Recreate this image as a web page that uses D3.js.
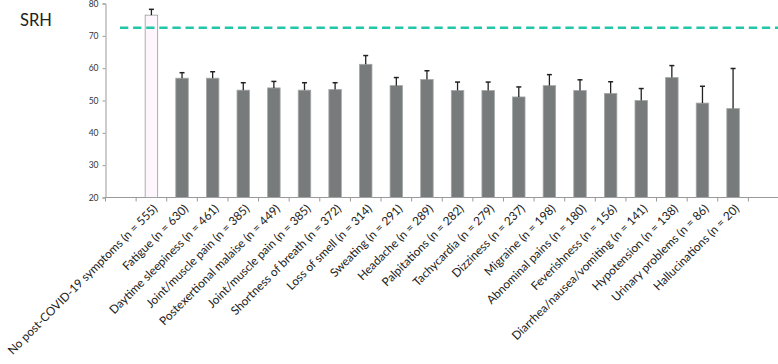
<!DOCTYPE html>
<html>
<head>
<meta charset="utf-8">
<script src="https://cdn.jsdelivr.net/npm/d3@7"></script>
<style>
  body { margin: 0; background: #fff; }
  svg text { font-family: Lato, "Open Sans", sans-serif; }
</style>
</head>
<body>
<div id="chart"></div>
<script>
// categories (one slot is left empty before the first and after the last)
const categories = [
  "No post-COVID-19 symptoms (n = 555)",
  "Fatigue (n = 630)",
  "Daytime sleepiness (n = 461)",
  "Joint/muscle pain (n = 385)",
  "Postexertional malaise  (n = 449)",
  "Joint/muscle pain  (n = 385)",
  "Shortness of breath (n = 372)",
  "Loss of smell (n = 314)",
  "Sweating (n = 291)",
  "Headache (n = 289)",
  "Palpitations (n = 282)",
  "Tachycardia (n = 279)",
  "Dizziness (n = 237)",
  "Migraine (n = 198)",
  "Abnominal pains (n = 180)",
  "Feverishness (n = 156)",
  "Diarrhea/nausea/vomiting (n = 141)",
  "Hypotension (n = 138)",
  "Urinary problems (n = 86)",
  "Hallucinations (n = 20)"
];
// mean SRH per group
const srhMean = [76.4, 56.9, 56.9, 53.2, 53.9, 53.2, 53.4, 61.2, 54.6, 56.5,
                 53.1, 53.1, 51.1, 54.6, 53.1, 52.2, 50.0, 57.1, 49.2, 47.5];
// upper error (top of whisker)
const srhUpper = [78.2, 58.6, 58.9, 55.5, 55.9, 55.5, 55.5, 63.9, 57.1, 59.2,
                  55.7, 55.7, 54.2, 58.0, 56.4, 55.8, 53.7, 60.8, 54.4, 59.9];
const yTicks = [20, 30, 40, 50, 60, 70, 80];
const referenceLine = 72.5;

const width = 778, height = 364;

const svg = d3.select("#chart").append("svg")
  .attr("width", width)
  .attr("height", height);

// slots: empty, 20 groups, empty
const slots = ["_a", ...categories, "_b"];
const x = d3.scaleBand()
  .domain(slots)
  .range([105.5, 779])
  .paddingInner(0)
  .paddingOuter(0);

const y = d3.scaleLinear()
  .domain([20, 80])
  .range([197.5, 3.5]);

// title
svg.append("text")
  .attr("x", 20)
  .attr("y", 26)
  .attr("font-size", 16.5)
  .attr("fill", "#222")
  .style("font-family", "Lato, sans-serif")
  .text("SRH");

// y axis
const yAxis = svg.append("g")
  .attr("transform", "translate(105.5,0)")
  .call(d3.axisLeft(y).tickValues(yTicks).tickSize(3).tickPadding(4));
yAxis.select(".domain").attr("stroke", "#999");
yAxis.selectAll(".tick line").attr("stroke", "#999");
yAxis.selectAll(".tick text")
  .attr("font-size", 8.5)
  .attr("fill", "#333")
  .style("font-family", "Lato, sans-serif");

// x axis: ticks at slot borders
const borders = d3.range(slots.length + 1).map(i => x.range()[0] + i * x.step());
svg.append("line")
  .attr("x1", x.range()[0]).attr("x2", width)
  .attr("y1", y(20)).attr("y2", y(20))
  .attr("stroke", "#999");
svg.selectAll(".xtick")
  .data(borders)
  .join("line")
  .attr("class", "xtick")
  .attr("x1", d => d).attr("x2", d => d)
  .attr("y1", y(20)).attr("y2", y(20) + 4)
  .attr("stroke", "#999");

// bars
const barW = 12.5;
svg.selectAll(".bar")
  .data(categories)
  .join("rect")
  .attr("class", "bar")
  .attr("x", d => x(d) + x.bandwidth() / 2 - barW / 2)
  .attr("width", barW)
  .attr("y", (d, i) => y(srhMean[i]))
  .attr("height", (d, i) => y(20) - y(srhMean[i]))
  .attr("fill", (d, i) => i === 0 ? "#fdf6fc" : "#777b7b")
  .attr("stroke", (d, i) => i === 0 ? "#9a9a9a" : "#a5a8a8")
  .attr("stroke-width", 0.8);

// error bars (upper only)
const err = svg.selectAll(".err")
  .data(categories)
  .join("g")
  .attr("class", "err")
  .attr("transform", d => `translate(${x(d) + x.bandwidth() / 2},0)`);
err.append("line")
  .attr("y1", (d, i) => y(srhMean[i]))
  .attr("y2", (d, i) => y(srhUpper[i]))
  .attr("stroke", "#222")
  .attr("stroke-width", 1.3);
err.append("line")
  .attr("x1", -2.5).attr("x2", 2.5)
  .attr("y1", (d, i) => y(srhUpper[i]))
  .attr("y2", (d, i) => y(srhUpper[i]))
  .attr("stroke", "#222")
  .attr("stroke-width", 1.5);

// dashed reference line
svg.append("line")
  .attr("x1", 120).attr("x2", width)
  .attr("y1", y(referenceLine)).attr("y2", y(referenceLine))
  .attr("stroke", "#22c6a8")
  .attr("stroke-width", 2.6)
  .attr("stroke-dasharray", "8.3,4.8");

// rotated category labels
svg.selectAll(".xlab")
  .data(categories)
  .join("text")
  .attr("class", "xlab")
  .attr("transform", d => `translate(${x(d) + x.bandwidth() / 2 + 4},${y(20) + 9}) rotate(-45)`)
  .attr("text-anchor", "end")
  .attr("dy", "0.35em")
  .attr("font-size", 11.8)
  .attr("fill", "#222")
  .text(d => d);
</script>
</body>
</html>
